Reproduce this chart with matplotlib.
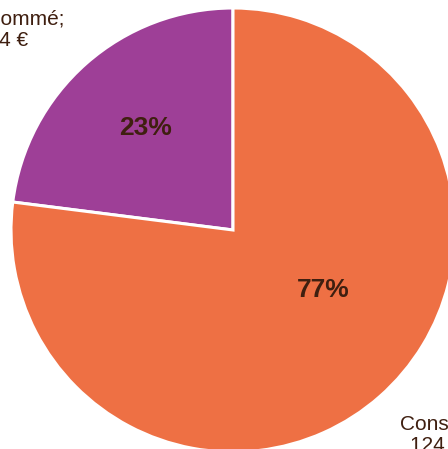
import matplotlib.pyplot as plt

categories = ["Non consommé", "Consommé"]
amounts = [37124, 124356]
amount_labels = ["37 124 €", "124 356 €"]
colors = ["#9E3F97", "#EE7044"]
text_color = "#3F1F10"

W, H = 448, 449
fig = plt.figure(figsize=(W / 100, H / 100), dpi=100)
ax = fig.add_axes([0, 0, 1, 1])

cx, cy, r = 233, H - 230, 222
wedges, texts, autotexts = ax.pie(
    amounts,
    labels=[f"{c};\n{a}" for c, a in zip(categories, amount_labels)],
    colors=colors,
    startangle=90,
    counterclock=True,
    center=(cx, cy),
    radius=r,
    autopct="%1.0f%%",
    wedgeprops=dict(edgecolor="white", linewidth=2.2),
    textprops=dict(color=text_color, fontsize=15, family="Liberation Sans"),
)

# label placement as in the original (best fit)
autotexts[0].set_position((146, H - 128))
autotexts[1].set_position((323, H - 290))
for t in autotexts:
    t.set_fontsize(19)
    t.set_fontweight("bold")
    t.set_ha("center")
    t.set_va("center")

texts[0].set_position((-12, H - 30))
texts[1].set_position((456, H - 435))
for t in texts:
    t.set_ha("center")
    t.set_va("center")
    t.set_multialignment("center")
    t.set_linespacing(1.15)

ax.set_xlim(0, W)
ax.set_ylim(0, H)
ax.set_aspect("equal")
ax.axis("off")

fig.savefig("out.png", dpi=100)
